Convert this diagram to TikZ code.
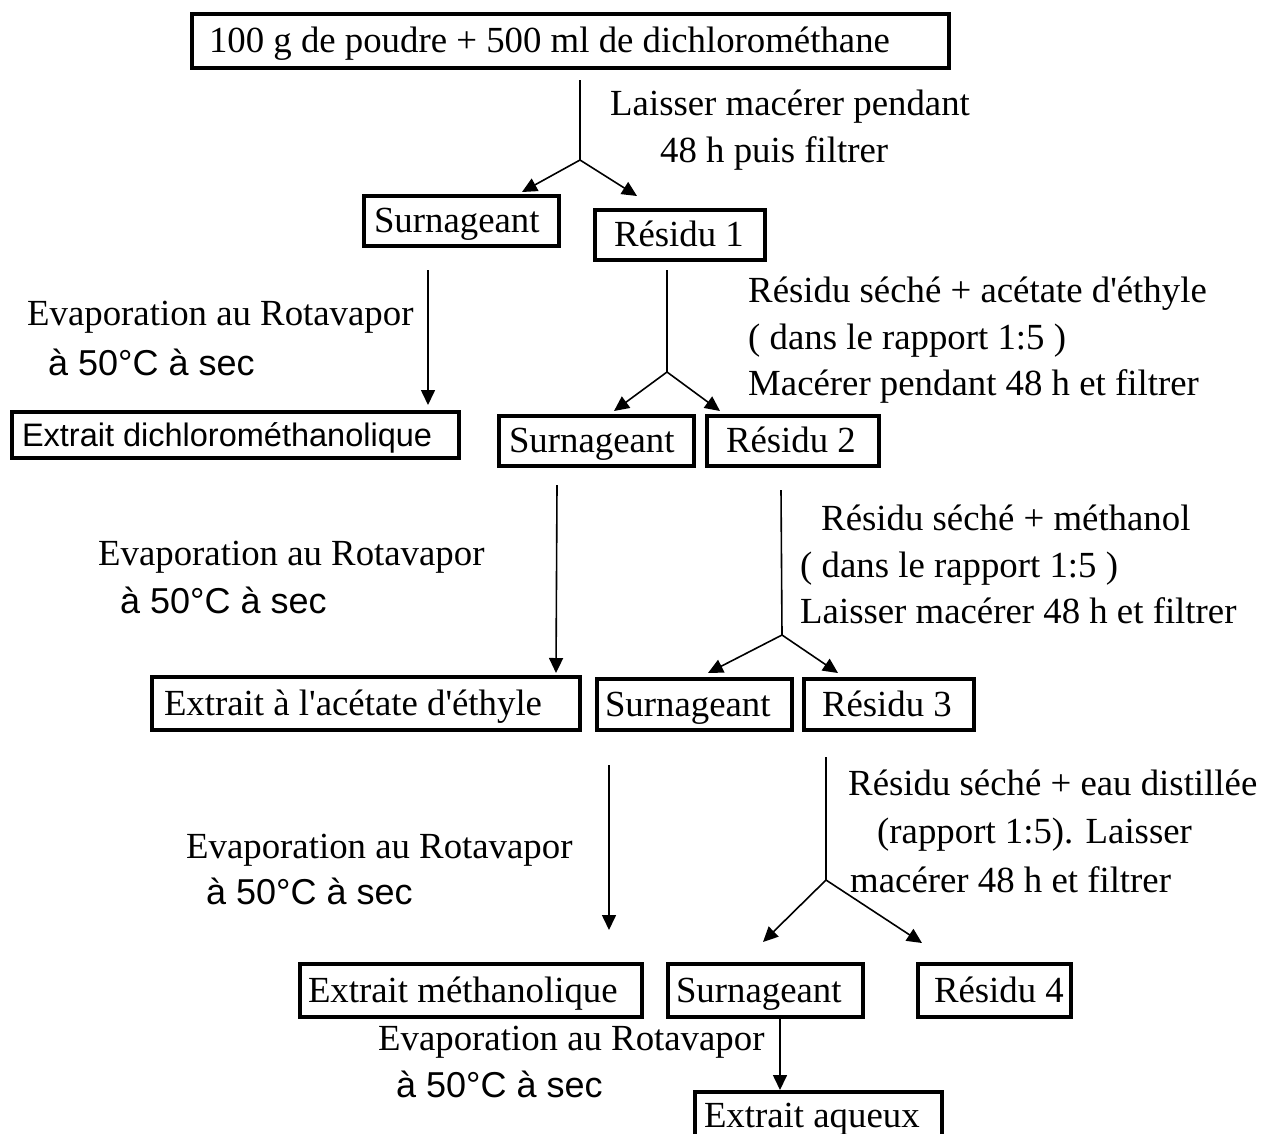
\documentclass[tikz,border=0pt]{standalone}
\usepackage{fontspec}
\setmainfont{Liberation Serif}
\newfontfamily\arialf{Liberation Sans}
\newfontfamily\sqfont{Liberation Serif}
\usetikzlibrary{arrows.meta}
\newcommand\sq{{\sqfont '}}
\newcommand\bxt[2]{\makebox[#1pt][l]{#2}}
\begin{document}
\begin{tikzpicture}[x=1pt,y=-1pt,
  tms/.style={font=\fontsize{36.8}{40}\selectfont},
  ari/.style={font=\arialf\fontsize{36}{40}\selectfont},
  box/.style={draw, line width=4pt, anchor=north west, inner ysep=0pt, text height=28pt, text depth=5pt, tms},
  lbl/.style={anchor=base west, inner sep=0pt, tms},
  albl/.style={anchor=base west, inner sep=0pt, ari},
  ln/.style={line width=1.6pt},
  arr/.style={line width=1.6pt, -{Triangle[length=15pt,width=14pt]}}]
\clip (0,0) rectangle (1263,1133);
\fill[white] (0,0) rectangle (1263,1133);
% boxes
\node[box, minimum height=54pt, inner xsep=17pt] (top) at (190,12) {\bxt{723}{100 g de poudre + 500 ml de dichlorométhane}};
\node[box, minimum height=50pt, inner xsep=10pt] (S1) at (362,194) {\bxt{175}{Surnageant}};
\node[box, minimum height=50pt, inner xsep=19pt] (R1) at (593,208) {\bxt{132}{Résidu 1}};
\node[box, minimum height=46pt, inner xsep=10pt, font=\arialf\fontsize{32.5}{36}\selectfont] (ED) at (10,410) {\bxt{427}{Extrait dichlorométhanolique}};
\node[box, minimum height=50pt, inner xsep=10pt] (S2) at (497,414) {\bxt{175}{Surnageant}};
\node[box, minimum height=50pt, inner xsep=19pt] (R2) at (705,414) {\bxt{134}{Résidu 2}};
\node[box, minimum height=53pt, inner xsep=12pt] (EA) at (150,675) {\bxt{404}{Extrait à l\sq acétate d\sq éthyle}};
\node[box, minimum height=51pt, inner xsep=8pt] (S3) at (595,677) {\bxt{179}{Surnageant}};
\node[box, minimum height=51pt, inner xsep=18pt] (R3) at (802,677) {\bxt{134}{Résidu 3}};
\node[box, minimum height=53pt, inner xsep=8pt] (EM) at (298,962) {\bxt{326}{Extrait méthanolique}};
\node[box, minimum height=53pt, inner xsep=8pt] (S4) at (666,962) {\bxt{179}{Surnageant}};
\node[box, minimum height=53pt, inner xsep=16pt] (R4) at (916,962) {\bxt{121}{Résidu 4}};
\node[box, minimum height=48pt, inner xsep=9pt] (EAq) at (693,1090) {\bxt{229}{Extrait aqueux}};
% labels
\node[lbl] (l1a) at (610,115) {Laisser macérer pendant};
\node[lbl] (l1b) at (660,162) {48 h puis filtrer};
\node[lbl] (e1a) at (27,325) {Evaporation au Rotavapor};
\node[albl] (e1b) at (48,375) {à 50°C à sec};
\node[lbl] (l2a) at (748,302) {Résidu séché + acétate d\sq éthyle};
\node[lbl] (l2b) at (748,349) {( dans le rapport 1:5 )};
\node[lbl] (l2c) at (748,395) {Macérer pendant 48 h et filtrer};
\node[lbl] (e2a) at (98,565) {Evaporation au Rotavapor};
\node[albl] (e2b) at (120,613) {à 50°C à sec};
\node[lbl] (l3a) at (821,530) {Résidu séché + méthanol};
\node[lbl] (l3b) at (800,577) {( dans le rapport 1:5 )};
\node[lbl] (l3c) at (800,623) {Laisser macérer 48 h et filtrer};
\node[lbl] (e3a) at (186,858) {Evaporation au Rotavapor};
\node[albl] (e3b) at (206,904) {à 50°C à sec};
\node[lbl] (l4a) at (848,795) {Résidu séché + eau distillée};
\node[lbl] (l4b) at (877,843) {(rapport 1:5). Laisser};
\node[lbl] (l4c) at (850,892) {macérer 48 h et filtrer};
\node[lbl] (e4a) at (378,1050) {Evaporation au Rotavapor};
\node[albl] (e4b) at (396,1097) {à 50°C à sec};
% coordinates
\coordinate (s1) at (580,80);   \coordinate (j1) at (580,160);
\coordinate (t1a) at (522,192); \coordinate (t1b) at (637,196);
\coordinate (v1a) at (428,270); \coordinate (v1b) at (428,405);
\coordinate (s2) at (667,270);  \coordinate (j2) at (667,372);
\coordinate (t2a) at (614,411); \coordinate (t2b) at (720,411);
\coordinate (v2a) at (557,485); \coordinate (v2b) at (556,673);
\coordinate (s3) at (781,490);  \coordinate (j3) at (782,635);
\coordinate (t3a) at (708,673); \coordinate (t3b) at (838,673);
\coordinate (v3a) at (609,765); \coordinate (v3b) at (609,930);
\coordinate (s4) at (826,757);  \coordinate (j4) at (826,880);
\coordinate (t4a) at (763,942); \coordinate (t4b) at (922,943);
\coordinate (v4b) at (780,1090);
% connectors
\draw[ln] (s1) -- (j1);
\draw[arr] (j1) -- (t1a);
\draw[arr] (j1) -- (t1b);
\draw[arr] (v1a) -- (v1b);
\draw[ln] (s2) -- (j2);
\draw[arr] (j2) -- (t2a);
\draw[arr] (j2) -- (t2b);
\draw[arr] (v2a) -- (v2b);
\draw[ln] (s3) -- (j3);
\draw[arr] (j3) -- (t3a);
\draw[arr] (j3) -- (t3b);
\draw[arr] (v3a) -- (v3b);
\draw[ln] (s4) -- (j4);
\draw[arr] (j4) -- (t4a);
\draw[arr] (j4) -- (t4b);
\draw[arr] (S4.south -| v4b) -- (v4b);
\end{tikzpicture}
\end{document}
